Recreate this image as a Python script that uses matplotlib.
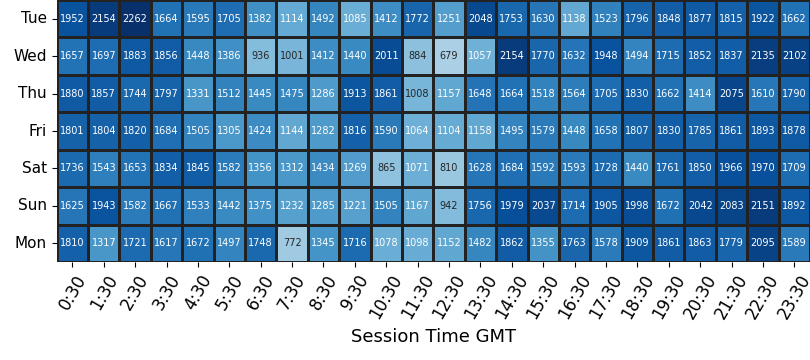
import numpy as np
import pandas as pd
import matplotlib
matplotlib.use("Agg")
import matplotlib.pyplot as plt
import seaborn as sns

days = ["Tue", "Wed", "Thu", "Fri", "Sat", "Sun", "Mon"]
times = [f"{h}:30" for h in range(24)]

tue = [1952, 2154, 2262, 1664, 1595, 1705, 1382, 1114, 1492, 1085, 1412, 1772, 1251, 2048, 1753, 1630, 1138, 1523, 1796, 1848, 1877, 1815, 1922, 1662]
wed = [1657, 1697, 1883, 1856, 1448, 1386, 936, 1001, 1412, 1440, 2011, 884, 679, 1057, 2154, 1770, 1632, 1948, 1494, 1715, 1852, 1837, 2135, 2102]
thu = [1880, 1857, 1744, 1797, 1331, 1512, 1445, 1475, 1286, 1913, 1861, 1008, 1157, 1648, 1664, 1518, 1564, 1705, 1830, 1662, 1414, 2075, 1610, 1790]
fri = [1801, 1804, 1820, 1684, 1505, 1305, 1424, 1144, 1282, 1816, 1590, 1064, 1104, 1158, 1495, 1579, 1448, 1658, 1807, 1830, 1785, 1861, 1893, 1878]
sat = [1736, 1543, 1653, 1834, 1845, 1582, 1356, 1312, 1434, 1269, 865, 1071, 810, 1628, 1684, 1592, 1593, 1728, 1440, 1761, 1850, 1966, 1970, 1709]
sun = [1625, 1943, 1582, 1667, 1533, 1442, 1375, 1232, 1285, 1221, 1505, 1167, 942, 1756, 1979, 2037, 1714, 1905, 1998, 1672, 2042, 2083, 2151, 1892]
mon = [1810, 1317, 1721, 1617, 1672, 1497, 1748, 772, 1345, 1716, 1078, 1098, 1152, 1482, 1862, 1355, 1763, 1578, 1909, 1861, 1863, 1779, 2095, 1589]

df = pd.DataFrame([tue, wed, thu, fri, sat, sun, mon], index=days, columns=times)

fig = plt.figure(figsize=(8.1, 3.6), dpi=100)
ax = fig.add_axes([0.07, 0.272, 0.93, 0.728])
sns.heatmap(df, ax=ax, cmap="Blues", vmin=-110, vmax=2262, annot=True, fmt="d",
            annot_kws={"fontsize": 7}, linewidths=1, linecolor="#222222",
            cbar=False)
ax.set_xticklabels(times, rotation=60, fontsize=12)
ax.set_yticklabels(days, rotation=0, fontsize=11)
ax.set_xlabel("Session Time GMT", fontsize=13)
ax.set_ylabel("")
fig.savefig("out.png", dpi=100)
